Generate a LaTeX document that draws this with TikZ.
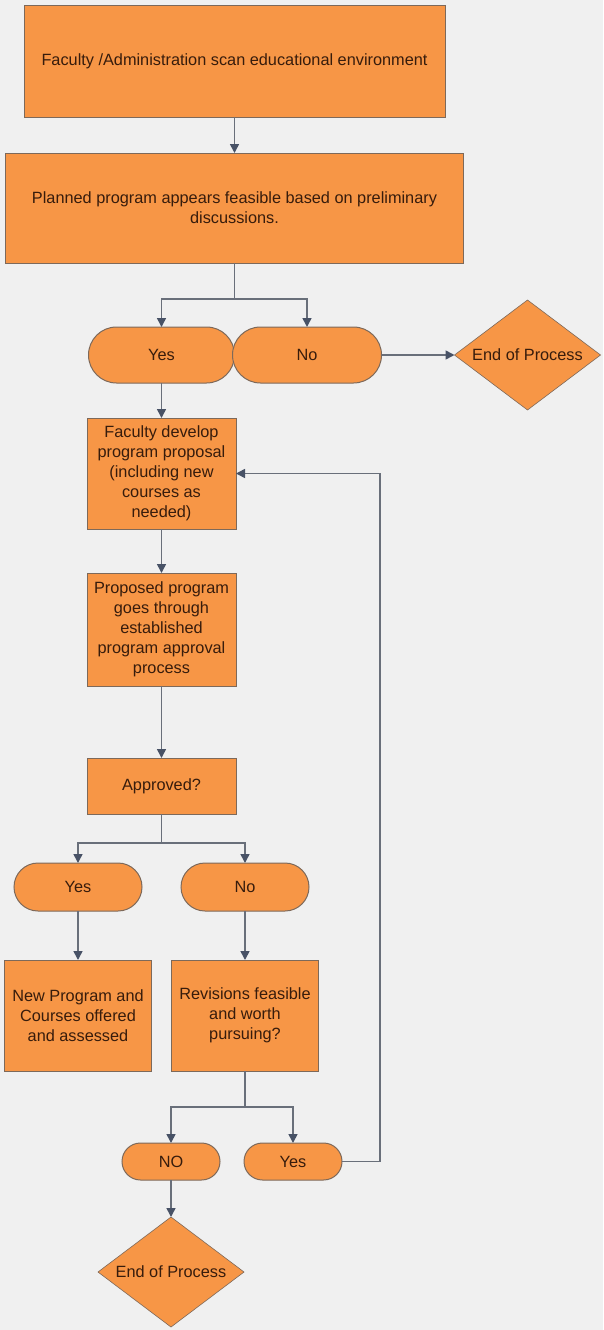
\documentclass[tikz,border=0pt]{standalone}
\usepackage{fontspec}
\setmainfont{Liberation Sans}
\usepackage{tikz}
\usetikzlibrary{arrows.meta, shapes.geometric, shapes.misc, positioning}
\definecolor{boxfill}{RGB}{247,150,70}
\definecolor{boxline}{RGB}{125,105,90}
\definecolor{linkline}{RGB}{105,111,122}
\definecolor{tiptone}{RGB}{72,82,102}
\definecolor{inktone}{RGB}{55,28,12}
\definecolor{paper}{RGB}{240,240,240}
\tikzstyle{stepbox}=[rectangle, draw=boxline, fill=boxfill, line width=1pt, outer sep=0pt, align=center, text=inktone, inner sep=2pt]
\tikzstyle{answer}=[rounded rectangle, draw=boxline, fill=boxfill, line width=1pt, outer sep=0pt, text=inktone, inner sep=2pt]
\tikzstyle{stop}=[diamond, aspect=1.33, draw=boxline, fill=boxfill, line width=0.6pt, outer sep=0pt, text=inktone, inner sep=0pt, minimum width=146pt, minimum height=110pt]
\tikzstyle{link}=[draw=linkline, line width=1.6pt, -{Triangle[length=9pt, width=9pt, color=tiptone]}]

\begin{document}
\begin{tikzpicture}[x=1pt, y=1pt, font=\fontsize{16.3}{20}\selectfont]
      \fill[paper] (0,0) rectangle (603,-1330);
      \useasboundingbox (0,0) rectangle (603,-1330);

      \node[stepbox, minimum width=421pt, minimum height=111pt] (scan) at (234.5,-61.5)
            {Faculty /Administration scan educational environment};
      \node[stepbox, minimum width=458pt, minimum height=110pt] (feasible) [below=36pt of scan]
            {Planned program appears feasible based on preliminary\\discussions.};

      \node[answer, minimum width=150pt, minimum height=56pt] (yes1) [below=64pt of feasible, xshift=-73pt] {Yes};
      \node[answer, minimum width=153pt, minimum height=56pt] (no1) [right=-2pt of yes1] {No};
      \node[stop] (end1) [right=73pt of no1] {End of Process};

      \node[stepbox, minimum width=149pt, minimum height=111pt] (develop) [below=35pt of yes1]
            {Faculty develop\\program proposal\\(including new\\courses as\\needed)};
      \node[stepbox, minimum width=149pt, minimum height=113pt] (approval) [below=44pt of develop]
            {Proposed program\\goes through\\established\\program approval\\process};
      \node[stepbox, minimum width=149pt, minimum height=56pt] (approved) [below=72pt of approval] {Approved?};

      \node[answer, minimum width=132pt, minimum height=48pt] (yes2) [below=49pt of approved, xshift=-83.5pt] {Yes};
      \node[answer, minimum width=132pt, minimum height=48pt] (no2) [right=39pt of yes2] {No};

      \node[stepbox, minimum width=147pt, minimum height=111pt] (offered) [below=49pt of yes2]
            {New Program and\\Courses offered\\and assessed};
      \node[stepbox, minimum width=147pt, minimum height=111pt] (revise) [below=49pt of no2]
            {Revisions feasible\\and worth\\pursuing?};

      \node[answer, minimum width=102pt, minimum height=37pt] (no3) [below=72pt of revise, xshift=-74pt] {NO};
      \node[answer, minimum width=102pt, minimum height=37pt] (yes3) [right=24pt of no3] {Yes};
      \node[stop] (end2) [below=37pt of no3] {End of Process};

      % main line
      \draw[link] (scan) -- (feasible);
      \draw[link] (feasible.south) -- ++(0,-36) -| (yes1.north);
      \draw[link] (feasible.south) -- ++(0,-36) -| (no1.north);
      \draw[link] (no1) -- (end1);
      \draw[link] (yes1) -- (develop);
      \draw[link] (develop) -- (approval);
      \draw[link] (approval) -- (approved);
      \draw[link] (approved.south) -- ++(0,-29) -| (yes2.north);
      \draw[link] (approved.south) -- ++(0,-29) -| (no2.north);
      \draw[link] (yes2) -- (offered);
      \draw[link] (no2) -- (revise);
      \draw[link] (revise.south) -- ++(0,-36) -| (no3.north);
      \draw[link] (revise.south) -- ++(0,-36) -| (yes3.north);
      \draw[link] (no3) -- (end2);
      % back to the proposal
      \draw[link] (yes3.east) -- ++(38,0) |- (develop.east);
\end{tikzpicture}
\end{document}
